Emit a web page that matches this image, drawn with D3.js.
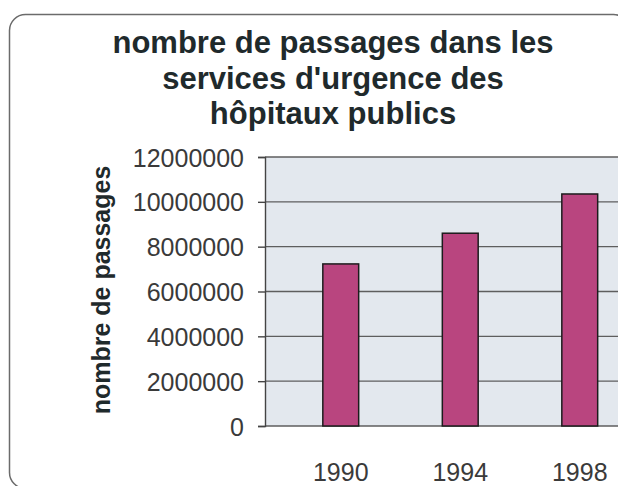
<!doctype html>
<html lang="fr">
<head>
<meta charset="utf-8">
<script src="https://d3js.org/d3.v7.min.js"></script>
<style>
body { margin: 0; background: #fff; }
text { font-family: "Liberation Sans", Arial, sans-serif; fill: #222; }
.title { font-weight: bold; font-size: 31px; fill: #1f2a2c; }
.ytitle { font-weight: bold; font-size: 25px; fill: #1f2a2c; }
.tick text { font-size: 25px; fill: #3a3a3a; }
</style>
</head>
<body>
<div id="chart"></div>
<script>
// data
var years = ["1990", "1994", "1998"];
var passages = [7230000, 8600000, 10350000];
var yTicks = [0, 2000000, 4000000, 6000000, 8000000, 10000000, 12000000];
var titleLines = ["nombre de passages dans les", "services d'urgence des", "hôpitaux publics"];

var W = 618, H = 486;
var plot = { left: 265, right: 660, top: 157, bottom: 426 };

var svg = d3.select("#chart").append("svg")
    .attr("width", W).attr("height", H);

// outer rounded frame (right and bottom sides run off the picture)
svg.append("rect")
    .attr("x", 9.5).attr("y", 14.5)
    .attr("width", 620).attr("height", 474)
    .attr("rx", 16)
    .attr("fill", "#fff")
    .attr("stroke", "#6b6b6b")
    .attr("stroke-width", 1.5);

// title
svg.append("text").attr("class", "title")
    .attr("text-anchor", "middle")
  .selectAll("tspan").data(titleLines).enter().append("tspan")
    .attr("x", 333)
    .attr("y", function(d, i) { return 53 + i * 35.5; })
    .text(function(d) { return d; });

var y = d3.scaleLinear().domain([0, 12000000]).range([plot.bottom, plot.top]);
var x = d3.scaleBand().domain(years)
    .range([281, 639.5])
    .paddingInner(0.7).paddingOuter(0.35);

// plot background
svg.append("rect")
    .attr("x", plot.left).attr("y", plot.top)
    .attr("width", plot.right - plot.left)
    .attr("height", plot.bottom - plot.top)
    .attr("fill", "#e3e8ee");

// gridlines
svg.append("g").selectAll("line").data(yTicks).enter().append("line")
    .attr("x1", plot.left).attr("x2", plot.right)
    .attr("y1", function(d) { return y(d); })
    .attr("y2", function(d) { return y(d); })
    .attr("stroke", "#5e5e5e")
    .attr("stroke-width", 1.4);

// y axis
var yAxis = d3.axisLeft(y).tickValues(yTicks)
    .tickSize(7).tickPadding(14)
    .tickFormat(d3.format("d"));
var gy = svg.append("g")
    .attr("transform", "translate(" + plot.left + ",0)")
    .call(yAxis);
gy.select(".domain").attr("stroke", "#444").attr("stroke-width", 1.4);
gy.selectAll(".tick line").attr("stroke", "#444").attr("stroke-width", 1.4);
gy.selectAll(".tick text").attr("dy", "0.36em");

// x axis labels (no line)
var xAxis = d3.axisBottom(x).tickSize(0).tickPadding(0);
var gx = svg.append("g")
    .attr("transform", "translate(0," + (plot.bottom + 37) + ")")
    .call(xAxis);
gx.select(".domain").remove();
gx.selectAll(".tick text").attr("dy", "0.71em");

// bars
svg.append("g").selectAll("rect").data(passages).enter().append("rect")
    .attr("x", function(d, i) { return x(years[i]); })
    .attr("width", x.bandwidth())
    .attr("y", function(d) { return y(d); })
    .attr("height", function(d) { return plot.bottom - y(d); })
    .attr("fill", "#b9457f")
    .attr("stroke", "#1c1c1c")
    .attr("stroke-width", 1.5);

// y axis title
svg.append("text").attr("class", "ytitle")
    .attr("text-anchor", "middle")
    .attr("transform", "translate(110,290) rotate(-90)")
    .text("nombre de passages");
</script>
</body>
</html>
